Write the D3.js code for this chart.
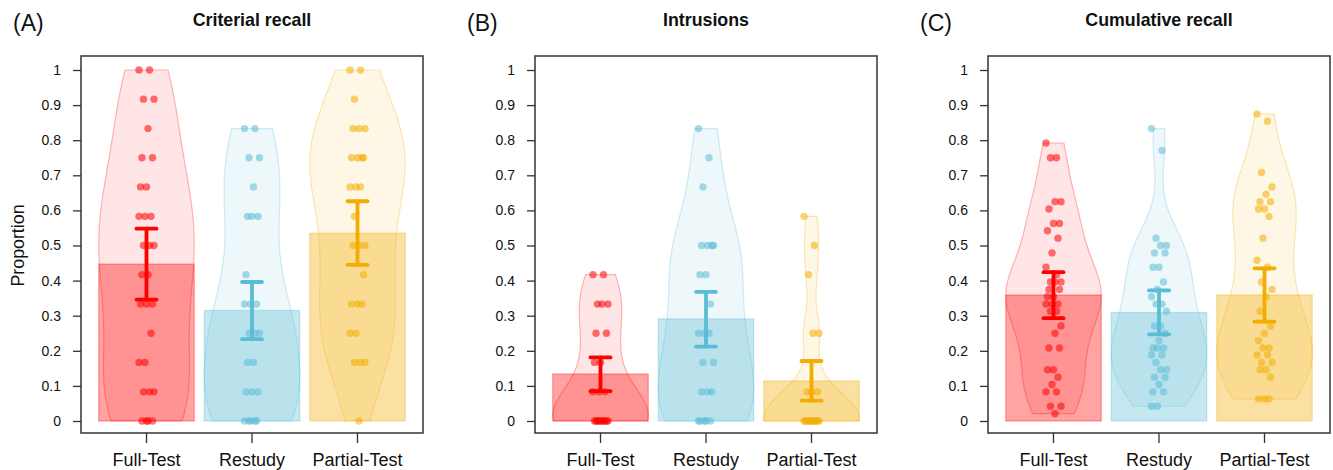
<!DOCTYPE html>
<html>
<head>
<meta charset="utf-8">
<script src="https://cdn.jsdelivr.net/npm/d3@7"></script>
<style>
  body { margin: 0; background: #fff; }
  svg text { font-family: "Liberation Sans", Arial, sans-serif; fill: #111; }
</style>
</head>
<body>
<svg id="chart" width="1333" height="470"></svg>
<script>
// ---- data ----
const groups = ['Full-Test', 'Restudy', 'Partial-Test'];
const groupColors = ['#FF0000', '#5BBCD6', '#F2AD00'];
const panelLetters = ['(A)', '(B)', '(C)'];
const panelTitles = ['Criterial recall', 'Intrusions', 'Cumulative recall'];
const yTickValues = [0, 0.1, 0.2, 0.3, 0.4, 0.5, 0.6, 0.7, 0.8, 0.9, 1];
const yTickLabels = ['0', '0.1', '0.2', '0.3', '0.4', '0.5', '0.6', '0.7', '0.8', '0.9', '1'];

// bar heights (means) and error bar limits, per group
const criterialMeans = [0.447, 0.315, 0.535];
const criterialLower = [0.346, 0.233, 0.445];
const criterialUpper = [0.548, 0.396, 0.626];
const intrusionMeans = [0.134, 0.291, 0.114];
const intrusionLower = [0.085, 0.212, 0.058];
const intrusionUpper = [0.181, 0.368, 0.171];
const cumulativeMeans = [0.359, 0.309, 0.359];
const cumulativeLower = [0.293, 0.247, 0.283];
const cumulativeUpper = [0.424, 0.372, 0.435];

// individual participant scores
const criterialFull = [1, 1, .917, .917, .833, .75, .75, .667, .667, .583, .583, .583, .5, .5, .5, .417, .417,
    .333, .333, .333, .25, .167, .167, .083, .083, .083, 0, 0, 0, 0];
const criterialRestudy = [.833, .833, .75, .75, .667, .583, .583, .583, .417, .333, .333, .333, .25, .25, .25,
    .167, .167, .083, .083, .083, 0, 0, 0, 0, 0];
const criterialPartial = [1, 1, .917, .833, .833, .833, .75, .75, .75, .75, .667, .667, .667, .583, .5, .5, .5,
    .417, .333, .333, .333, .25, .25, .167, .167, .167, 0];
const intrusionFull = [.417, .417, .333, .333, .333, .25, .25, .167, .167, .083, .083, .083,
    0, 0, 0, 0, 0, 0, 0, 0, 0, 0];
const intrusionRestudy = [.833, .75, .667, .5, .5, .5, .5, .417, .417, .333, .25, .25, .25, .167, .167,
    .083, .083, .083, 0, 0, 0, 0, 0];
const intrusionPartial = [.583, .5, .417, .25, .25, .083, .083, .083, 0, 0, 0, 0, 0, 0, 0, 0, 0, 0, 0];
const cumulativeFull = [.792, .75, .75, .625, .625, .604, .563, .563, .542, .521, .479, .438, .417, .396, .396,
    .396, .375, .375, .354, .354, .333, .333, .333, .313, .313, .271, .25, .208, .208, .146, .146, .125, .104,
    .083, .083, .042, .042, .021];
const cumulativeRestudy = [.833, .771, .521, .5, .5, .479, .479, .438, .438, .396, .375, .354, .333, .333,
    .313, .271, .271, .25, .229, .208, .208, .208, .188, .188, .167, .146, .146, .125, .125, .104, .083, .083,
    .042, .042];
const cumulativePartial = [.875, .854, .708, .667, .646, .625, .625, .604, .604, .583, .521, .458, .438,
    .396, .375, .354, .313, .271, .25, .229, .208, .208, .188, .188, .167, .167, .146, .146, .125, .063, .063, .063];

const panels = [
    {means: criterialMeans, lower: criterialLower, upper: criterialUpper,
     points: [criterialFull, criterialRestudy, criterialPartial]},
    {means: intrusionMeans, lower: intrusionLower, upper: intrusionUpper,
     points: [intrusionFull, intrusionRestudy, intrusionPartial]},
    {means: cumulativeMeans, lower: cumulativeLower, upper: cumulativeUpper,
     points: [cumulativeFull, cumulativeRestudy, cumulativePartial]}
];

// ---- layout ----
const config = {
    boxLefts: [81, 535, 988],
    boxWidth: 342,
    boxTop: 56,
    boxBottom: 433,
    yTop: 70,
    yBottom: 421,
    innerPad: 12.75,
    bwAdjust: 1.0
};

const svg = d3.select('#chart');

// rule-of-thumb bandwidth, like R's bw.nrd0
function bwNrd0(values) {
    const sorted = values.slice().sort(d3.ascending);
    const sd = d3.deviation(sorted);
    const iqr = d3.quantile(sorted, 0.75) - d3.quantile(sorted, 0.25);
    let lo = Math.min(sd, iqr / 1.34);
    if (!(lo > 0)) lo = sd || 0.1;
    return 0.9 * lo * Math.pow(values.length, -0.2);
}

// gaussian density, cut at the data range, scaled to its own maximum
function violinProfile(values) {
    const bw = bwNrd0(values) * config.bwAdjust;
    const [lo, hi] = d3.extent(values);
    const steps = 120;
    const prof = d3.range(steps + 1).map(i => {
        const v = lo + (hi - lo) * i / steps;
        const dens = d3.sum(values, x => Math.exp(-0.5 * ((v - x) / bw) ** 2));
        return {v, dens};
    });
    const maxD = d3.max(prof, d => d.dens);
    prof.forEach(d => d.rel = d.dens / maxD);
    return prof;
}

panels.forEach((panel, p) => {
    const left = config.boxLefts[p];
    const right = left + config.boxWidth;
    const cx = (left + right) / 2;

    const xScale = d3.scaleBand()
        .domain(groups)
        .range([left + config.innerPad, right - config.innerPad])
        .paddingInner(0.095)
        .paddingOuter(0.0475);
    const yScale = d3.scaleLinear()
        .domain([0, 1])
        .range([config.yBottom, config.yTop]);

    const g = svg.append('g');
    const bw = xScale.bandwidth();

    // violins
    groups.forEach((grp, i) => {
        const prof = violinProfile(panel.points[i]);
        const mid = xScale(grp) + bw / 2;
        const area = d3.area()
            .y(d => yScale(d.v))
            .x0(d => mid - d.rel * bw / 2)
            .x1(d => mid + d.rel * bw / 2);
        g.append('path')
            .datum(prof)
            .attr('d', area)
            .attr('fill', groupColors[i])
            .attr('fill-opacity', 0.1)
            .attr('stroke', groupColors[i])
            .attr('stroke-opacity', 0.28)
            .attr('stroke-width', 1.2);
    });

    // bars
    g.selectAll('.bar')
        .data(panel.means)
        .join('rect')
        .attr('class', 'bar')
        .attr('x', (d, i) => xScale(groups[i]))
        .attr('y', d => yScale(d))
        .attr('width', bw)
        .attr('height', d => yScale(0) - yScale(d))
        .attr('fill', (d, i) => groupColors[i])
        .attr('fill-opacity', 0.36)
        .attr('stroke', (d, i) => groupColors[i])
        .attr('stroke-opacity', 0.35)
        .attr('stroke-width', 1.2);

    // jittered points
    groups.forEach((grp, i) => {
        const mid = xScale(grp) + bw / 2;
        g.selectAll(null)
            .data(panel.points[i])
            .join('circle')
            .attr('cx', (d, k) => mid + (((k * 7) % 11) - 5) * 1.5)
            .attr('cy', d => yScale(d))
            .attr('r', 3.7)
            .attr('fill', groupColors[i])
            .attr('fill-opacity', 0.55);
    });

    // error bars
    groups.forEach((grp, i) => {
        const mid = xScale(grp) + bw / 2;
        const eb = g.append('g')
            .attr('stroke', groupColors[i])
            .attr('stroke-width', 3.8)
            .attr('stroke-linecap', 'round');
        eb.append('line')
            .attr('x1', mid).attr('x2', mid)
            .attr('y1', yScale(panel.lower[i])).attr('y2', yScale(panel.upper[i]));
        [panel.lower[i], panel.upper[i]].forEach(v => {
            eb.append('line')
                .attr('x1', mid - 10).attr('x2', mid + 10)
                .attr('y1', yScale(v)).attr('y2', yScale(v));
        });
    });

    // frame
    g.append('rect')
        .attr('x', left)
        .attr('y', config.boxTop)
        .attr('width', config.boxWidth)
        .attr('height', config.boxBottom - config.boxTop)
        .attr('fill', 'none')
        .attr('stroke', '#333')
        .attr('stroke-width', 1.5);

    // y axis
    const yAxis = g.append('g')
        .attr('transform', `translate(${left},0)`)
        .call(d3.axisLeft(yScale)
            .tickValues(yTickValues)
            .tickFormat((d, i) => yTickLabels[i])
            .tickSize(8)
            .tickPadding(12));
    yAxis.select('.domain').remove();
    yAxis.selectAll('line').attr('stroke', '#333').attr('stroke-width', 1.3);
    yAxis.selectAll('text')
        .attr('font-family', '"Liberation Sans", Arial, sans-serif')
        .attr('font-size', 14)
        .attr('fill', '#111');

    // x axis
    const xAxis = g.append('g')
        .attr('transform', `translate(0,${config.boxBottom})`)
        .call(d3.axisBottom(xScale).tickSize(10).tickPadding(10));
    xAxis.select('.domain').remove();
    xAxis.selectAll('line').attr('stroke', '#333').attr('stroke-width', 1.3);
    xAxis.selectAll('text')
        .attr('font-family', '"Liberation Sans", Arial, sans-serif')
        .attr('font-size', 18)
        .attr('fill', '#111');

    // title and panel letter
    g.append('text')
        .attr('x', cx)
        .attr('y', 26)
        .attr('text-anchor', 'middle')
        .attr('font-size', 17.8)
        .attr('font-weight', 'bold')
        .text(panelTitles[p]);
    g.append('text')
        .attr('x', left - 68)
        .attr('y', 31)
        .attr('font-size', 23)
        .text(panelLetters[p]);

    if (p === 0) {
        g.append('text')
            .attr('transform', `translate(24,${(config.yTop + config.yBottom) / 2}) rotate(-90)`)
            .attr('text-anchor', 'middle')
            .attr('font-size', 17.8)
            .text('Proportion');
    }
});
</script>
</body>
</html>
